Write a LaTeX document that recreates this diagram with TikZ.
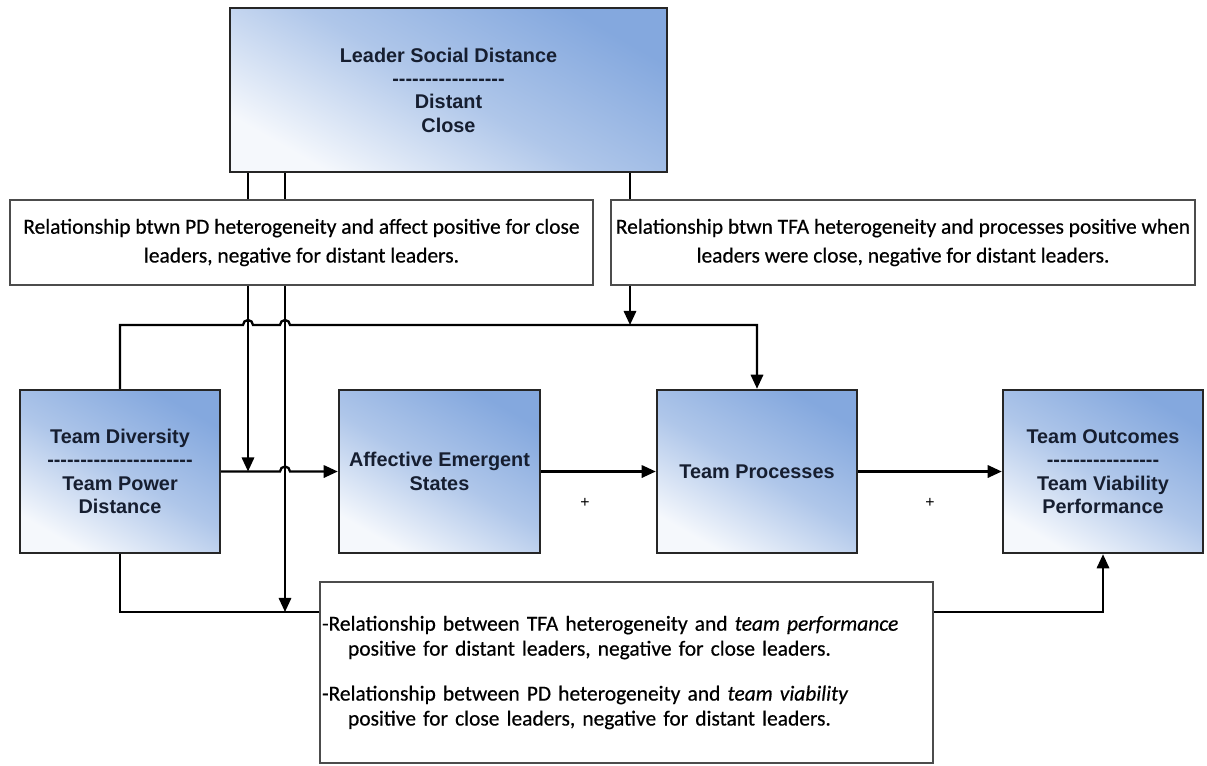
\documentclass[tikz,border=0pt]{standalone}
\usepackage{fontspec}
\setsansfont{Liberation Sans}
\newfontfamily\notefont{Carlito}[FakeBold=0.5]
\usetikzlibrary{arrows.meta,calc}
\definecolor{boxblue}{RGB}{132,168,222}
\definecolor{inkcol}{RGB}{22,30,48}
% a row of separate hyphens, so no dash ligature is formed
\newcommand{\divider}[1]{\foreach \n in {1,...,#1}{-\kern0pt}}

\begin{document}
\begin{tikzpicture}[x=0.02cm, y=-0.02cm, line width=1.3pt,
		>={Triangle[length=8pt,width=7pt]},
		factor/.style={draw=black!85, line width=1.4pt, top color=boxblue, bottom color=boxblue!8!white,
			middle color=boxblue!65!white, shading angle=-30, text=inkcol, align=center,
			inner sep=0pt, font=\sffamily\bfseries\fontsize{11.3}{13.3}\selectfont,
			minimum width=4cm, minimum height=3.26cm},
		note/.style={draw=black!70, fill=white, line width=1pt, inner sep=0pt,
			font=\notefont\fontsize{12.2}{16.4}\selectfont}]
	\useasboundingbox (0,0) rectangle (1207,765);
	\node[factor, minimum width=8.74cm, minimum height=3.28cm] (lsd) at (448.5, 90)
		{Leader Social Distance\\\divider{17}\\Distant\\Close};
	\node[note, minimum width=11.66cm, minimum height=1.7cm, align=center] (pd) at (301.5, 242.5)
		{Relationship btwn PD heterogeneity and affect positive for close\\leaders, negative for distant leaders.};
	\node[note, minimum width=11.68cm, minimum height=1.7cm, align=center] (tfa) at (903, 242.5)
		{Relationship btwn TFA heterogeneity and processes positive when\\leaders were close, negative for distant leaders.};
	\node[factor] (td) at (120, 471.5) {Team Diversity\\\divider{22}\\Team Power\\Distance};
	\node[factor, minimum width=4.02cm] (aes) at (439.5, 471.5) {Affective Emergent\\States};
	\node[factor] (tp) at (757, 471.5) {Team Processes};
	\node[factor] (to) at (1103, 471.5) {Team Outcomes\\\divider{17}\\Team Viability\\Performance};
	\node[note, minimum height=3.62cm, text width=12.18cm, inner xsep=0.04cm, align=left,
		font=\notefont\fontsize{12.2}{14.2}\selectfont] (res) at (626.5, 672.5)
		{-Relationship between TFA heterogeneity and \textit{team performance}\\
		\hspace*{0.52cm}positive for distant leaders, negative for close leaders.\\[0.4cm]
		-Relationship between PD heterogeneity and \textit{team viability}\\
		\hspace*{0.52cm}positive for close leaders, negative for distant leaders.};
	\node[font=\sffamily\small] (plusa) at (585, 503) {+};
	\node[font=\sffamily\small] (plusb) at (930, 503) {+};
	\coordinate (xa) at (248, 0);
	\coordinate (xb) at (285, 0);
	\coordinate (xc) at (630, 0);
	\coordinate (ya) at (0, 325);
	\coordinate (yb) at (0, 612);
	% moderator links
	\draw (lsd.south -| xa) -- (pd.north -| xa);
	\draw (lsd.south -| xb) -- (pd.north -| xb);
	\draw (lsd.south -| xc) -- (tfa.north -| xc);
	\draw[->] (pd.south -| xa) -- (td.east -| xa);
	\draw[->] (pd.south -| xb) -- (yb -| xb);
	\draw[->] (tfa.south -| xc) -- (ya -| xc);
	% main paths
	\draw[->] (td.north) -- (td.north |- ya)
		-- ($(ya -| xa)+(-5,0)$) arc[start angle=180, end angle=0, radius=0.1cm]
		-- ($(ya -| xb)+(-5,0)$) arc[start angle=180, end angle=0, radius=0.1cm]
		-- (ya -| tp.north) -- (tp.north);
	\draw[->] (td.east) -- ($(td.east -| xb)+(-5,0)$) arc[start angle=180, end angle=0, radius=0.1cm]
		-- (aes.west);
	\draw[->] (aes.east) -- (tp.west);
	\draw[->] (tp.east) -- (to.west);
	\draw (td.south) -- (td.south |- yb) -- (res.west |- yb);
	\draw[->] (res.east |- yb) -- (to.south |- yb) -- (to.south);
\end{tikzpicture}
\end{document}
